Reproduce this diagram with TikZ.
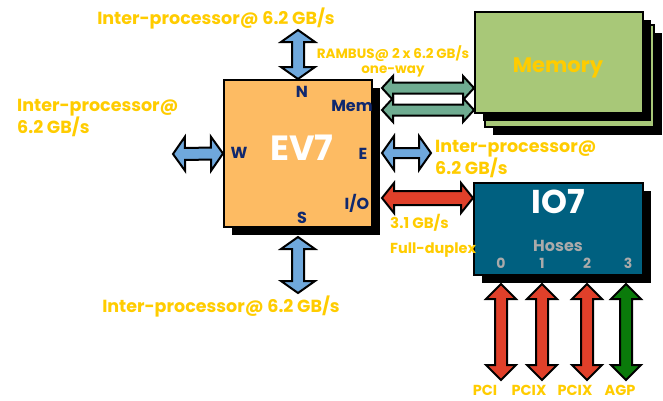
\documentclass[tikz,border=0pt]{standalone}
\usepackage{fontspec}
\setmainfont{Poppins}
\usetikzlibrary{calc,shadows}

\definecolor{evorange}{RGB}{253,187,99}
\definecolor{portnavy}{RGB}{16,40,110}
\definecolor{labelyellow}{RGB}{255,204,0}
\definecolor{linkblue}{RGB}{111,168,220}
\definecolor{linkgreen}{RGB}{111,172,145}
\definecolor{linkred}{RGB}{224,64,42}
\definecolor{agpgreen}{RGB}{10,122,10}
\definecolor{memgreen}{RGB}{168,200,120}
\definecolor{iopetrol}{RGB}{0,96,128}
\definecolor{hosegray}{RGB}{170,170,170}

\tikzset{
  % fat double arrow: head length / head half width / shaft half width
  fatarrow/.style args={#1/#2/#3}{draw=black, line width=2pt, line join=miter,
    to path={
      -- ($(\tikztostart)!#1!(\tikztotarget)!#2!90:(\tikztotarget)$)
      -- ($(\tikztostart)!#1!(\tikztotarget)!#3!90:(\tikztotarget)$)
      -- ($(\tikztotarget)!#1!(\tikztostart)!#3!-90:(\tikztostart)$)
      -- ($(\tikztotarget)!#1!(\tikztostart)!#2!-90:(\tikztostart)$)
      -- (\tikztotarget)
      -- ($(\tikztotarget)!#1!(\tikztostart)!#2!90:(\tikztostart)$)
      -- ($(\tikztotarget)!#1!(\tikztostart)!#3!90:(\tikztostart)$)
      -- ($(\tikztostart)!#1!(\tikztotarget)!#3!-90:(\tikztotarget)$)
      -- ($(\tikztostart)!#1!(\tikztotarget)!#2!-90:(\tikztotarget)$)
      -- cycle}},
  unit/.style={draw=black, line width=2pt, inner sep=0pt,
    drop shadow={shadow xshift=8pt, shadow yshift=-8pt, opacity=1, fill=black}},
  yellowtext/.style={text=labelyellow, inner sep=0pt, font=\bfseries\fontsize{17.5}{21}\selectfont},
  porttext/.style={text=portnavy, inner sep=0pt, font=\bfseries\fontsize{16}{18}\selectfont},
}

\begin{document}
\begin{tikzpicture}[x=1pt, y=-1pt]

    \useasboundingbox (0,0) rectangle (663,400);

    % Boxes
    \node[unit, fill=evorange, minimum width=148pt, minimum height=147pt] (ev7) at (298,153.5) {};
    \node[unit, fill=memgreen, minimum width=169pt, minimum height=102pt] (memback) at (569.5,76) {};
    \node[unit, fill=memgreen, minimum width=168pt, minimum height=101pt] (mem) at (559,62.5) {};
    \node[unit, fill=iopetrol, minimum width=169pt, minimum height=92pt] (io7) at (558.5,229) {};

    % Box titles
    \node[text=white, inner sep=0pt, font=\bfseries\fontsize{35}{38}\selectfont] (ev7title) at (302,148) {EV7};
    \node[text=labelyellow, inner sep=0pt, font=\bfseries\fontsize{21}{24}\selectfont] (memtitle) at (558,68) {Memory};
    \node[text=white, inner sep=0pt, font=\bfseries\fontsize{33}{36}\selectfont] (io7title) at (558,202) {IO7};
    \node[text=hosegray, inner sep=0pt, font=\bfseries\fontsize{16}{18}\selectfont] (hoses) at (558,246) {Hoses};

    % Ports
    \node[porttext] (portn) at (302,92) {N};
    \node[porttext] (portmem) at (352,106) {Mem};
    \node[porttext] (portw) at (239,153) {W};
    \node[porttext] (porte) at (363,154) {E};
    \node[porttext] (portio) at (357,203) {I/O};
    \node[porttext] (ports) at (302,218) {S};

    % Link ends
    \coordinate (ntip) at (298,30);
    \coordinate (sin) at (298,237);
    \coordinate (stip) at (298,293);
    \coordinate (wtip) at (173,154);
    \coordinate (ein) at (382,153);
    \coordinate (etip) at (431,153);
    \coordinate (memin1) at (382,88);
    \coordinate (memout1) at (474,88);
    \coordinate (memin2) at (382,110);
    \coordinate (memout2) at (474,110);
    \coordinate (ioin) at (382,198);
    \coordinate (ioout) at (473,198);

    % Links
    \draw[fatarrow=12pt/17pt/6pt, fill=linkblue] (ev7.north) to (ntip);
    \draw[fatarrow=12pt/17pt/6pt, fill=linkblue] (sin) to (stip);
    \draw[fatarrow=12pt/17pt/6pt, fill=linkblue] (ev7.west) to (wtip);
    \draw[fatarrow=12pt/17pt/5pt, fill=linkblue] (ein) to (etip);
    \draw[fatarrow=11pt/12pt/5.5pt, fill=linkgreen] (memin1) to (memout1);
    \draw[fatarrow=11pt/12pt/5.5pt, fill=linkgreen] (memin2) to (memout2);
    \draw[fatarrow=12pt/15pt/7pt, fill=linkred] (ioin) to (ioout);

    % Hoses
    \foreach \hx/\lx/\dx/\hcol/\bus [count=\i from 0] in
        {501/485/501/linkred/PCI, 542/529/542/linkred/PCIX, 587/575/587/linkred/PCIX, 626/620/628/agpgreen/AGP} {
        \coordinate (hosetop\i) at (\hx,284);
        \coordinate (hosebot\i) at (\hx,380);
        \draw[fatarrow=15pt/15pt/6pt, fill=\hcol] (hosetop\i) to (hosebot\i);
        \node[text=hosegray, inner sep=0pt, font=\bfseries\fontsize{14}{16}\selectfont] (hosenum\i) at (\dx,263) {\i};
        \node[yellowtext, font=\bfseries\fontsize{14.5}{16}\selectfont] (bus\i) at (\lx,390) {\bus};
    }

    % Link labels
    \node[yellowtext] (labeln) at (216,19) {Inter-processor@ 6.2 GB/s};
    \node[yellowtext, align=left, anchor=west] (labelw) at (17,118) {Inter-processor@\\6.2 GB/s};
    \node[yellowtext, align=left, anchor=west] (labele) at (435,159) {Inter-processor@\\6.2 GB/s};
    \node[yellowtext] (labels) at (221,307) {Inter-processor@ 6.2 GB/s};
    \node[yellowtext, font=\bfseries\fontsize{13.5}{15}\selectfont] (labelmem) at (393,54) {RAMBUS@ 2 x 6.2 GB/s};
    \node[yellowtext, font=\bfseries\fontsize{13.5}{15}\selectfont] (labelmemway) at (393,71) {one-way};
    \node[yellowtext, font=\bfseries\fontsize{15}{17}\selectfont, anchor=west] (labelio) at (390,223) {3.1 GB/s};
    \node[yellowtext, font=\bfseries\fontsize{14.5}{17}\selectfont, anchor=west] (labeliomode) at (390,250) {Full-duplex};

\end{tikzpicture}
\end{document}
